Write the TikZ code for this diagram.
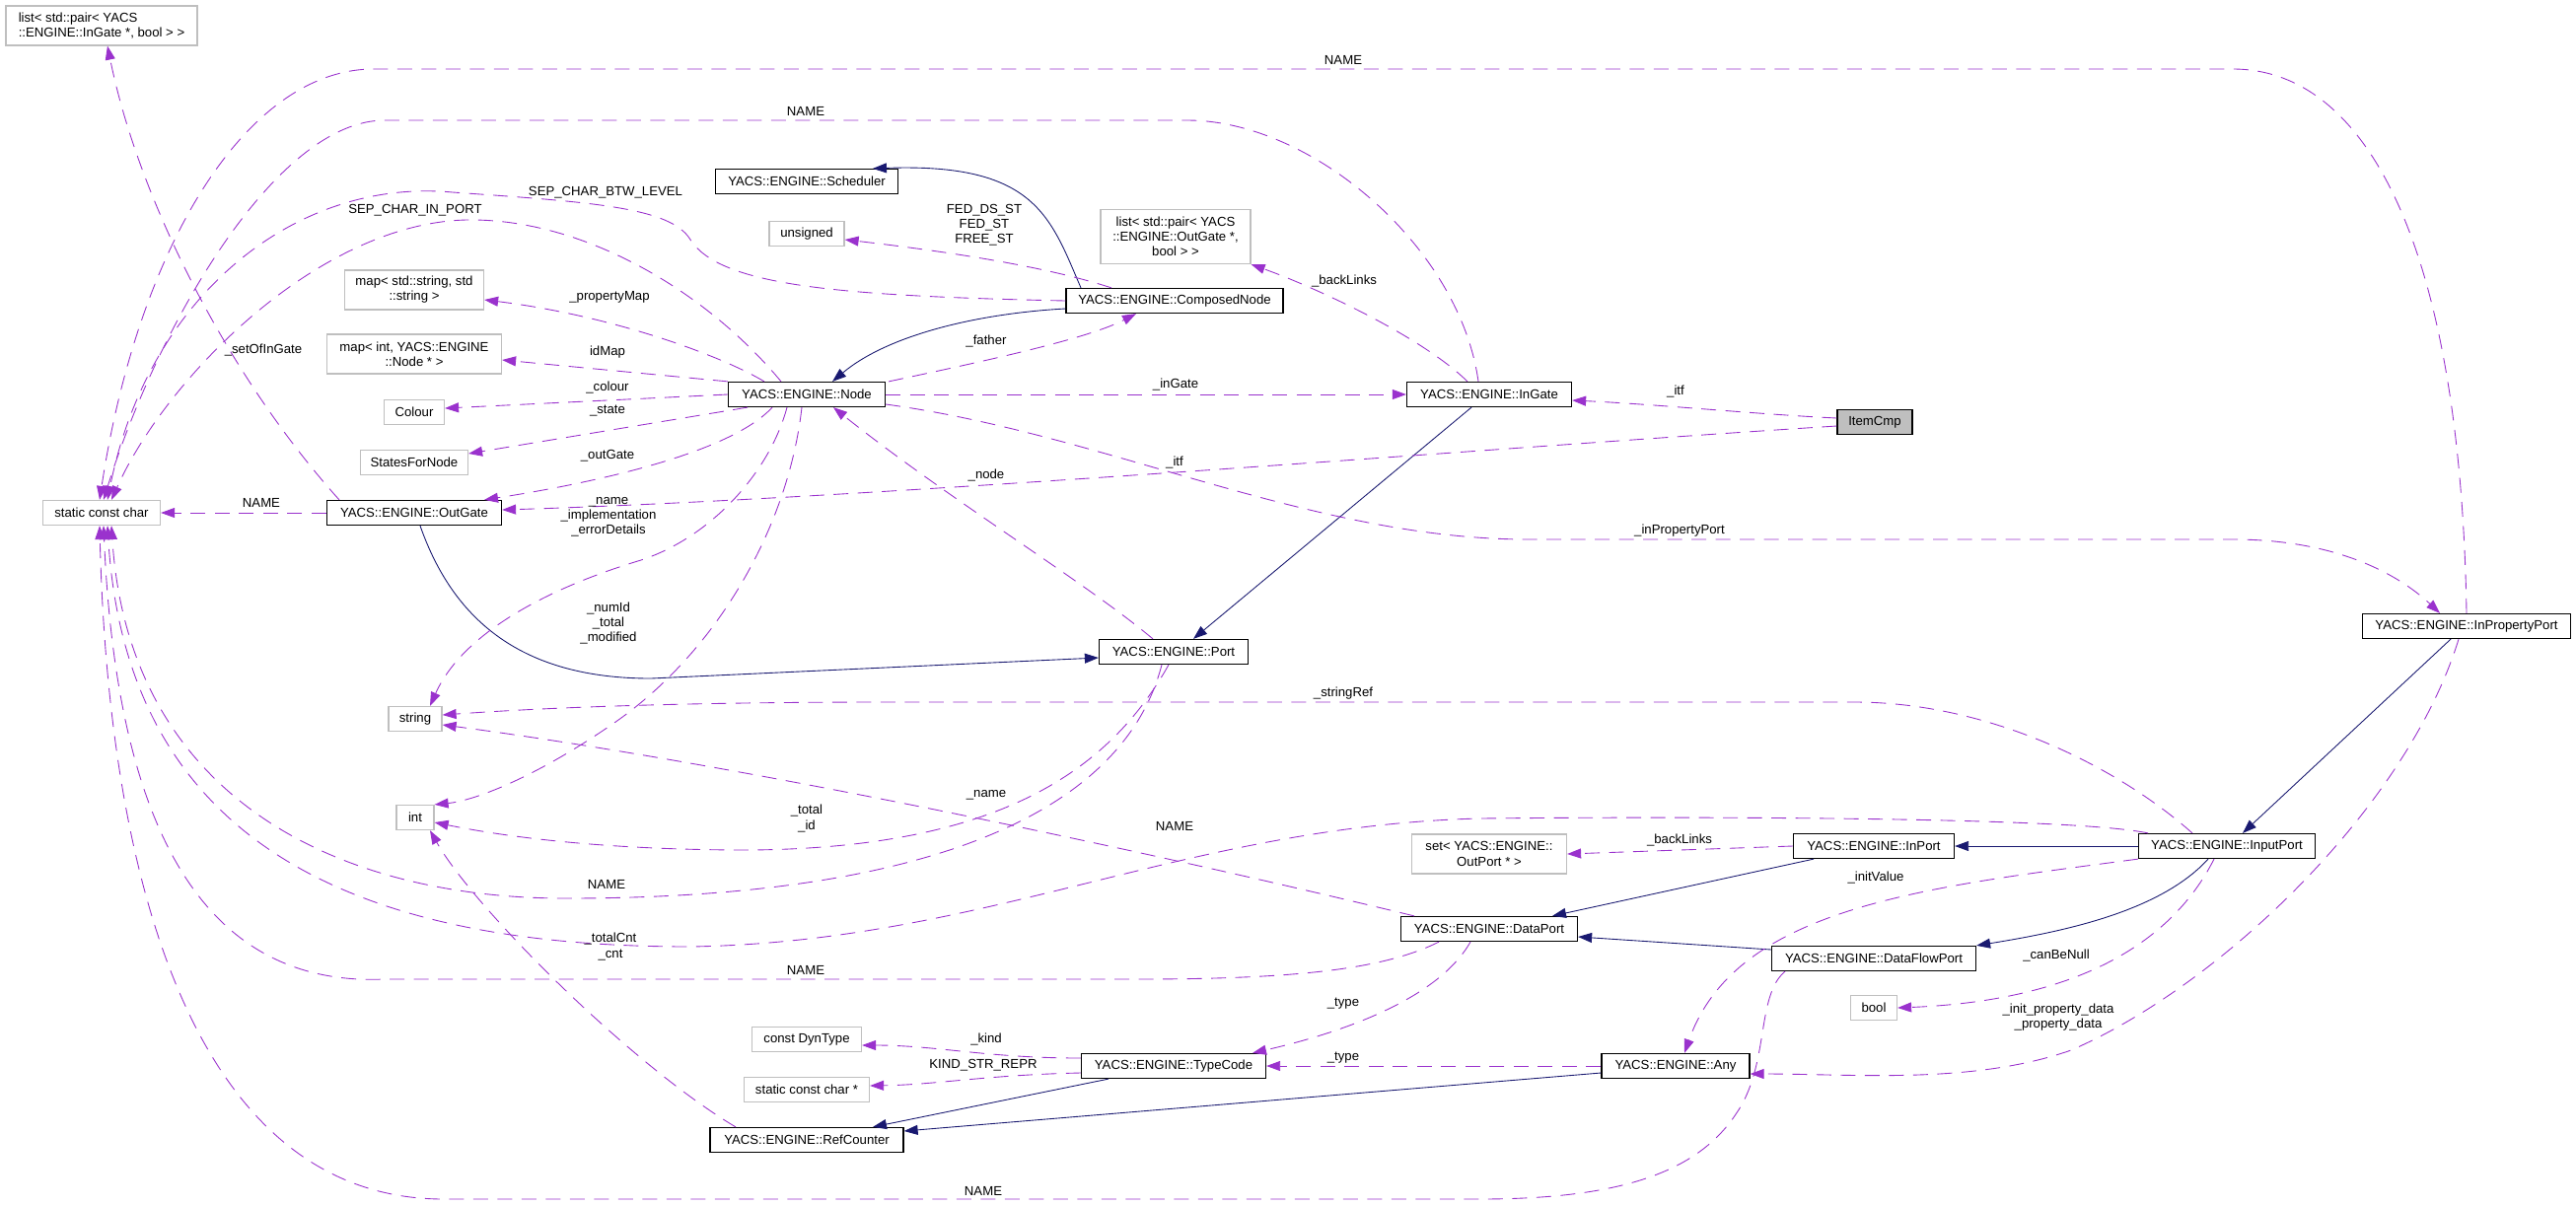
\documentclass[tikz,border=0pt]{standalone}
\usepackage{fontspec}
\setmainfont{Liberation Sans}
\usepackage{xcolor}
\usepackage{tikz}
\usetikzlibrary{arrows.meta}

\definecolor{usecol}{HTML}{9A32CD}
\definecolor{inhcol}{HTML}{191970}
\definecolor{extgray}{HTML}{BFBFBF}
\newcommand{\doxfont}{\fontsize{7.5}{8.6}\selectfont}

\begin{document}
\begin{tikzpicture}[x=0.2mm,y=-0.2mm,
  cls/.style={draw=black,fill=white,line width=0.7pt,rectangle,minimum height=5mm,
              inner xsep=0.5mm,inner ysep=1mm,align=center,font=\doxfont},
  ext/.style={cls,draw=extgray},
  cur/.style={cls,fill=extgray},
  lbl/.style={font=\doxfont,align=center,inner sep=0pt},
  use/.style={draw=usecol,line width=0.5pt,dash pattern=on 3mm off 1.9mm,
              -{Triangle[length=2.8mm,width=2mm]}},
  inh/.style={draw=inhcol,line width=0.5pt,-{Triangle[length=2.8mm,width=2mm]}}
]
\useasboundingbox (0,0) rectangle (2612,1222);
% Classes and types
\node[ext,align=left,minimum width=38.8mm,minimum height=8mm] (listInGate) at (103,26)
    {list< std::pair< YACS\\::ENGINE::InGate *, bool > >};
\node[ext,minimum width=23.8mm] (scc) at (103,520) {static const char};
\node[cls,minimum width=35.4mm] (outGate) at (420,520) {YACS::ENGINE::OutGate};
\node[ext,minimum width=28.2mm,minimum height=8mm] (mapSS) at (420,294)
    {map< std::string, std\\::string >};
\node[ext,minimum width=35.4mm,minimum height=8mm] (mapIN) at (420,359)
    {map< int, YACS::ENGINE\\::Node * >};
\node[ext,minimum width=12.2mm] (colour) at (420,418) {Colour};
\node[ext,minimum width=21.8mm] (states) at (420,469) {StatesForNode};
\node[ext,minimum width=10.8mm] (stringT) at (421,729) {string};
\node[ext,minimum width=7.6mm] (intT) at (421,829) {int};
\node[cls,minimum width=37mm] (scheduler) at (818,184) {YACS::ENGINE::Scheduler};
\node[ext,minimum width=15.2mm] (unsignedT) at (818,237) {unsigned};
\node[cls,minimum width=31.8mm] (node) at (818,400) {YACS::ENGINE::Node};
\node[ext,minimum width=22.2mm] (dynType) at (818,1054) {const DynType};
\node[ext,minimum width=25.4mm] (sccp) at (818,1105) {static const char *};
\node[cls,minimum width=39.2mm] (refCounter) at (818,1156) {YACS::ENGINE::RefCounter};
\node[ext,minimum width=30.4mm,minimum height=11mm] (listOutGate) at (1192,240)
    {list< std::pair< YACS\\::ENGINE::OutGate *,\\bool > >};
\node[cls,minimum width=44mm] (composed) at (1191,305) {YACS::ENGINE::ComposedNode};
\node[cls,minimum width=30.2mm] (port) at (1190,661) {YACS::ENGINE::Port};
\node[cls,minimum width=37.4mm] (typeCode) at (1190,1081) {YACS::ENGINE::TypeCode};
\node[cls,minimum width=33.4mm] (inGate) at (1510,400) {YACS::ENGINE::InGate};
\node[ext,minimum width=31.4mm,minimum height=8mm] (setOP) at (1510,866)
    {set< YACS::ENGINE::\\OutPort * >};
\node[cls,minimum width=35.8mm] (dataPort) at (1510,942) {YACS::ENGINE::DataPort};
\node[cls,minimum width=30mm] (any) at (1699,1081) {YACS::ENGINE::Any};
\node[cur,minimum width=15.2mm] (itemCmp) at (1901,428) {ItemCmp};
\node[cls,minimum width=32.6mm] (inPort) at (1900,858) {YACS::ENGINE::InPort};
\node[cls,minimum width=41.4mm] (dataFlowPort) at (1900,972) {YACS::ENGINE::DataFlowPort};
\node[ext,minimum width=9.4mm] (boolT) at (1900,1022) {bool};
\node[cls,minimum width=35.8mm] (inputPort) at (2258,858) {YACS::ENGINE::InputPort};
\node[cls,minimum width=42.2mm] (inPropPort) at (2501,635) {YACS::ENGINE::InPropertyPort};
% Inheritance
\draw[inh] ([shift={(0,8)}]composed.west) .. controls (990,318) and (900,340) .. ([shift={(26,0)}]node.north);
\draw[inh] ([shift={(-95,0)}]composed.north) .. controls (1065,220) and (1050,165) .. ([shift={(67,0)}]scheduler.north);
\draw[inh] ([shift={(6,0)}]outGate.south) .. controls (460,630) and (530,688) .. (660,688) -- ([shift={(0,6)}]port.west);
\draw[inh] ([shift={(-18,0)}]inGate.south) -- ([shift={(20,0)}]port.north);
\draw[inh] ([shift={(-61,0)}]inPort.south) -- ([shift={(64,0)}]dataPort.north);
\draw[inh] ([shift={(0,-9)}]dataFlowPort.west) -- ([shift={(0,8)}]dataPort.east);
\draw[inh] (inputPort.west) -- (inPort.east);
\draw[inh] ([shift={(-19,0)}]inputPort.south) .. controls (2190,925) and (2090,945) .. (dataFlowPort.north east);
\draw[inh] ([shift={(-16,0)}]inPropPort.south) -- ([shift={(16,0)}]inputPort.north);
\draw[inh] ([shift={(-66,0)}]typeCode.south) -- ([shift={(67,0)}]refCounter.north);
\draw[inh] ([shift={(0,7)}]any.west) -- ([shift={(0,-9)}]refCounter.east);
% Usage: into static const char (top)
\draw[use] (inPropPort.north) .. controls (2495,250) and (2400,70) .. (2264,70) -- (379,70)
    .. controls (250,70) and (140,250) .. ([shift={(-2,0)}]scc.north);
\draw[use] ([shift={(-11,0)}]inGate.north) .. controls (1480,250) and (1330,122) .. (1204,122) -- (390,122)
    .. controls (280,122) and (160,330) .. ([shift={(2,0)}]scc.north);
\draw[use] (composed.west) .. controls (850,300) and (730,290) .. (700,243)
    .. controls (680,210) and (600,205) .. (459,195) .. controls (300,180) and (150,300) .. ([shift={(6,0)}]scc.north);
\draw[use] ([shift={(-26,0)}]node.north) .. controls (720,300) and (600,225) .. (482,223)
    .. controls (330,220) and (170,380) .. ([shift={(10,0)}]scc.north);
\draw[use] ([shift={(-76,0)}]outGate.north) .. controls (230,380) and (140,200) .. ([shift={(6,0)}]listInGate.south);
\draw[use] (outGate.west) -- (scc.east);
% Usage: from Node
\draw[use] ([shift={(-43,0)}]node.north) .. controls (730,360) and (620,320) .. ([shift={(0,10)}]mapSS.east);
\draw[use] (node.north west) -- ([shift={(0,6)}]mapIN.east);
\draw[use] (node.west) -- ([shift={(0,-4)}]colour.east);
\draw[use] ([shift={(-60,0)}]node.south) -- ([shift={(0,-9)}]states.east);
\draw[use] ([shift={(-35,0)}]node.south) .. controls (740,460) and (600,490) .. ([shift={(71,0)}]outGate.north);
\draw[use] ([shift={(3,0)}]node.north east) .. controls (980,370) and (1100,345) .. ([shift={(-39,0)}]composed.south);
\draw[use] ([shift={(-20,0)}]node.south) .. controls (780,480) and (720,545) .. (650,568)
    .. controls (560,595) and (470,640) .. ([shift={(15,0)}]stringT.north);
\draw[use] ([shift={(-5,0)}]node.south) .. controls (800,530) and (730,660) .. (620,735)
    .. controls (540,790) and (480,812) .. (intT.north east);
\draw[use] (node.east) -- (inGate.west);
\draw[use] ([shift={(0,10)}]node.east) .. controls (1120,440) and (1330,547) .. (1550,547) -- (2264,547)
    .. controls (2380,547) and (2440,590) .. ([shift={(-27,0)}]inPropPort.north);
% Usage: other members
\draw[use] ([shift={(-64,0)}]composed.north) .. controls (1060,270) and (960,255) .. ([shift={(0,6)}]unsignedT.east);
\draw[use] ([shift={(-22,0)}]inGate.north) .. controls (1440,340) and (1330,290) .. (listOutGate.south east);
\draw[use] ([shift={(0,-4)}]itemCmp.west) .. controls (1780,420) and (1680,410) .. ([shift={(0,6)}]inGate.east);
\draw[use] ([shift={(0,4)}]itemCmp.west) .. controls (1500,455) and (900,505) .. ([shift={(0,-3)}]outGate.east);
\draw[use] ([shift={(-21,0)}]port.north) .. controls (1100,590) and (960,505) .. ([shift={(27,0)}]node.south);
\draw[use] ([shift={(-5,0)}]port.south) .. controls (1120,790) and (1000,860) .. (760,862)
    .. controls (620,862) and (520,850) .. ([shift={(0,5)}]intT.east);
\draw[use] ([shift={(-12,0)}]port.south) .. controls (1140,820) and (950,911) .. (574,911)
    .. controls (330,911) and (130,800) .. ([shift={(10,0)}]scc.south);
\draw[use] ([shift={(-80,0)}]inputPort.north) .. controls (2100,828) and (1700,828) .. (1500,830)
    .. controls (1200,838) and (1000,955) .. (700,960) .. controls (400,960) and (130,880) .. ([shift={(6,0)}]scc.south);
\draw[use] ([shift={(-51,0)}]dataPort.south) .. controls (1400,985) and (1300,993) .. (1150,993) -- (390,993)
    .. controls (230,1000) and (120,880) .. ([shift={(2,0)}]scc.south);
\draw[use] ([shift={(-90,0)}]dataFlowPort.south) .. controls (1780,1010) and (1795,1080) .. (1760,1130)
    .. controls (1720,1190) and (1640,1216) .. (1500,1216) -- (450,1216)
    .. controls (200,1216) and (110,900) .. ([shift={(-2,0)}]scc.south);
\draw[use] ([shift={(-72,0)}]refCounter.north) .. controls (640,1080) and (480,920) .. ([shift={(15,0)}]intT.south);
\draw[use] ([shift={(-76,0)}]dataPort.north) .. controls (1150,860) and (750,775) .. ([shift={(0,6)}]stringT.east);
\draw[use] ([shift={(-35,0)}]inputPort.north) .. controls (2150,780) and (2020,712) .. (1880,712) -- (900,712)
    .. controls (650,712) and (520,720) .. ([shift={(0,-4)}]stringT.east);
\draw[use] (inPort.west) -- (setOP.east);
\draw[use] (inputPort.south west) .. controls (1950,900) and (1760,920) .. ([shift={(9,0)}]any.north);
\draw[use] ([shift={(-13,0)}]inputPort.south) .. controls (2200,960) and (2100,1015) .. (boolT.east);
\draw[use] ([shift={(-8,0)}]inPropPort.south) .. controls (2440,820) and (2250,1000) .. (2100,1065)
    .. controls (2000,1100) and (1880,1089) .. ([shift={(0,8)}]any.east);
\draw[use] ([shift={(-19,0)}]dataPort.south) .. controls (1460,1010) and (1370,1045) .. ([shift={(80,0)}]typeCode.north);
\draw[use] ([shift={(0,-8)}]typeCode.west) .. controls (1000,1073) and (950,1060) .. ([shift={(0,6)}]dynType.east);
\draw[use] ([shift={(0,7)}]typeCode.west) .. controls (1000,1090) and (950,1100) .. ([shift={(0,-4)}]sccp.east);
\draw[use] (any.west) -- (typeCode.east);
% Edge labels
\node[lbl] (lNameTop) at (1362,61) {NAME};
\node[lbl] (lNameIG) at (817,113) {NAME};
\node[lbl] (lSepBtw) at (614,195) {SEP\_CHAR\_BTW\_LEVEL};
\node[lbl] (lSepIn) at (421,213) {SEP\_CHAR\_IN\_PORT};
\node[lbl] (lSetOf) at (267,355) {\_setOfInGate};
\node[lbl] (lNameOG) at (265,510) {NAME};
\node[lbl] (lPropMap) at (618,301) {\_propertyMap};
\node[lbl] (lIdMap) at (616,357) {idMap};
\node[lbl] (lColour) at (616,393) {\_colour};
\node[lbl] (lState) at (616,417) {\_state};
\node[lbl] (lOutGate) at (616,462) {\_outGate};
\node[lbl] (lFather) at (1000,346) {\_father};
\node[lbl] (lFed) at (998,228) {FED\_DS\_ST\\FED\_ST\\FREE\_ST};
\node[lbl] (lBack1) at (1363,285) {\_backLinks};
\node[lbl] (lInGate) at (1192,390) {\_inGate};
\node[lbl] (lItf1) at (1699,397) {\_itf};
\node[lbl] (lItf2) at (1191,469) {\_itf};
\node[lbl] (lNode) at (1000,482) {\_node};
\node[lbl] (lNameImpl) at (617,524) {\_name\\\_implementation\\\_errorDetails};
\node[lbl] (lNumId) at (617,632) {\_numId\\\_total\\\_modified};
\node[lbl] (lInProp) at (1703,538) {\_inPropertyPort};
\node[lbl] (lStrRef) at (1362,703) {\_stringRef};
\node[lbl] (lTotId) at (818,830) {\_total\\\_id};
\node[lbl] (lNameP) at (615,897) {NAME};
\node[lbl] (lNameIP) at (1191,838) {NAME};
\node[lbl] (lName2) at (1000,806) {\_name};
\node[lbl] (lBack2) at (1703,852) {\_backLinks};
\node[lbl] (lInit) at (1902,890) {\_initValue};
\node[lbl] (lTotCnt) at (619,960) {\_totalCnt\\\_cnt};
\node[lbl] (lNameDP) at (817,984) {NAME};
\node[lbl] (lCanNull) at (2085,969) {\_canBeNull};
\node[lbl] (lType1) at (1362,1018) {\_type};
\node[lbl] (lInitProp) at (2087,1032) {\_init\_property\_data\\\_property\_data};
\node[lbl] (lKind) at (1000,1054) {\_kind};
\node[lbl] (lType2) at (1362,1073) {\_type};
\node[lbl] (lKindStr) at (997,1080) {KIND\_STR\_REPR};
\node[lbl] (lNameDF) at (997,1208) {NAME};
\end{tikzpicture}
\end{document}
